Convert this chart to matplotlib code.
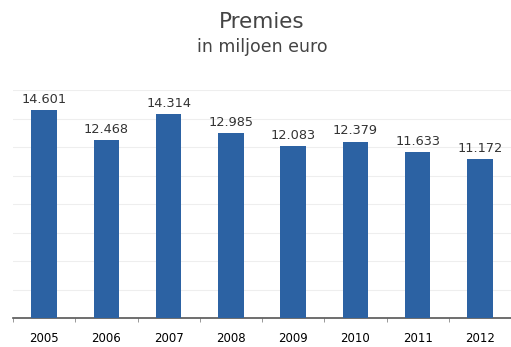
import matplotlib.pyplot as plt
import numpy as np

# premies per jaar, in miljoen euro
years = ['2005', '2006', '2007', '2008', '2009', '2010', '2011', '2012']
premies = [14601, 12468, 14314, 12985, 12083, 12379, 11633, 11172]

bar_color = '#2C62A3'

fig = plt.figure(figsize=(5.11, 3.47), dpi=100)
ax = fig.add_axes([13/511, 29/347, 498/511, 228/347])

x = np.arange(len(years))
ax.bar(x, premies, width=0.41, color=bar_color, zorder=3)

for xi, v in zip(x, premies):
    label = '{:,}'.format(v).replace(',', '.')
    ax.text(xi, v + 300, label, ha='center', va='bottom', fontsize=9.3, color='#333333')

ax.set_xlim(-0.5, len(years) - 0.5)
ax.set_ylim(0, 16000)
ax.set_yticks(np.arange(0, 16001, 2000))
ax.yaxis.grid(True, color='#eeeeee', lw=0.8, zorder=0)
ax.tick_params(axis='y', left=False, labelleft=False)

# year labels in the middle, small tick marks between the categories
ax.set_xticks(x)
ax.set_xticklabels(years, fontsize=8.5)
ax.tick_params(axis='x', length=0, pad=10)
ax.set_xticks(np.arange(-0.5, len(years)), minor=True)
ax.tick_params(axis='x', which='minor', length=3, color='#888888', direction='out')

for side in ['top', 'right', 'left']:
    ax.spines[side].set_visible(False)
ax.spines['bottom'].set_color('#555555')
ax.spines['bottom'].set_linewidth(1.2)

fig.text(262/511, 1 - 22/347, 'Premies', ha='center', va='center', fontsize=15.5, color='#444444')
fig.text(262/511, 1 - 47/347, 'in miljoen euro', ha='center', va='center', fontsize=12.5, color='#444444')

fig.savefig('out.png', dpi=100)
